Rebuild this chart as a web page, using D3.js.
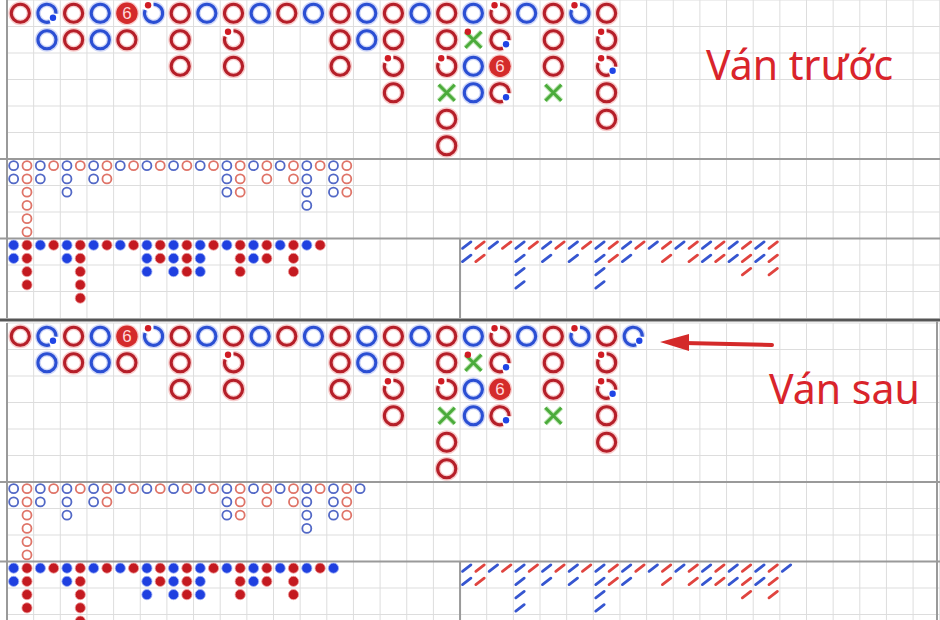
<!DOCTYPE html>
<html>
<head>
<meta charset="utf-8">
<script src="https://cdn.jsdelivr.net/npm/d3@7"></script>
<style>
  body { margin: 0; background: #fff; }
  svg { display: block; }
</style>
</head>
<body>
<svg id="chart"></svg>
<script>

// big road, one string per column, top cell first
// R banker, B player, X tie, 6 banker win on six; b = banker pair dot, p = player pair dot
const bigRoad = ["R", "Bp B", "R R", "B B", "6 R", "Bb", "R R R", "B", "R Rb R", "B", "R", "B",
	"R R R", "B B", "R R Rb R", "B", "R R Rb X R R", "B Xb B B", "Rb Rp 6 Rp", "B", "R R R X", "Bb",
	"R Rb Rbp R R"]
const bigRoadAdded = ["Bp"]

// derived roads, one string per column
const bigEyeRoad = ["BB", "RRRRRR", "BB", "R", "BBB", "R", "BB", "RR", "B", "R", "B", "R", "B", "R",
	"B", "R", "BBB", "RRR", "B", "RR", "B", "RR", "BBBB", "R", "BBB", "RRR"]
const bigEyeAdded = ["B"]

const smallRoad = ["BB", "RRRR", "B", "R", "BB", "RRRRR", "B", "R", "B", "R", "BBB", "RR", "BBB",
	"RRR", "BBB", "R", "B", "RRR", "BB", "RR", "B", "RRR", "B", "R"]
const smallAdded = ["B"]

const cockroachRoad = ["BB", "RR", "B", "R", "BBBB", "R", "BB", "R", "BB", "R", "BBBB", "RR", "BB",
	"R", "B", "RR", "B", "RR", "BB", "RR", "BB", "RRR", "BB", "RRR"]
const cockroachAdded = ["B"]

const labels = ["Ván trước", "Ván sau"]

const width = 940, height = 620
const cell = 26.65, left = 7

const svg = d3.select("#chart")
	.attr("width", width)
	.attr("height", height)
	.style("font-family", "'Noto Sans', 'Open Sans', sans-serif")

svg.append("rect").attr("width", width).attr("height", height).attr("fill", "#fff")

const colors = { R: "#b51f29", B: "#2b4fd3", X: "#4bab3b" }
const halo = { R: "#f3a2a2", B: "#a9b6f0", X: "#bfe6b5" }
const softColors = { R: "#df7468", B: "#5268c6" }
const dotColors = { R: "#c41a20", B: "#1f40e0" }
const slashColors = { R: "#e0443f", B: "#3656d0" }

// grid background for one panel, lines every big cell
function grid(g, x0, x1, y0, y1) {
	const xs = d3.range(Math.ceil((x0 - left) / cell), Math.floor((x1 - left) / cell) + 1).map(k => left + k * cell)
	const ys = d3.range(y0, y1, 26.5)
	g.append("g").selectAll("line.v").data(xs).join("line")
		.attr("x1", d => d).attr("x2", d => d).attr("y1", y0).attr("y2", y1)
		.attr("stroke", "#dddddd").attr("stroke-width", 1)
	g.append("g").selectAll("line.h").data(ys).join("line")
		.attr("x1", x0).attr("x2", x1).attr("y1", d => d).attr("y2", d => d)
		.attr("stroke", "#dddddd").attr("stroke-width", 1)
}

function cells(cols, sep) {
	const out = []
	cols.forEach((col, c) => {
		const parts = sep ? col.split(sep) : col.split("")
		parts.forEach((code, r) => out.push({
			c, r,
			type: code[0],
			bp: code.includes("b"),
			pp: code.includes("p")
		}))
	})
	return out
}

const ring = d3.arc().innerRadius(7.5).outerRadius(10.6)
const ringHalo = d3.arc().innerRadius(6.2).outerRadius(12)
const redDotAt = [-5.5, -8], blueDotAt = [6, 4.5]
const gapHalf = 0.6

function ringPieces(d) {
	const gaps = []
	if (d.bp) gaps.push(Math.atan2(redDotAt[0], -redDotAt[1]))
	if (d.pp) gaps.push(Math.atan2(blueDotAt[0], -blueDotAt[1]))
	if (!gaps.length) return [{ startAngle: 0, endAngle: 2 * Math.PI }]
	gaps.sort((a, b) => a - b)
	return gaps.map((g, i) => {
		const next = i + 1 < gaps.length ? gaps[i + 1] : gaps[0] + 2 * Math.PI
		return { startAngle: g + gapHalf, endAngle: next - gapHalf }
	})
}

function drawBigRoad(g, cols, top) {
	const x = d3.scaleLinear().domain([0, 35]).range([left, left + 35 * cell])
	const y = d3.scaleLinear().domain([0, 6]).range([top, top + 159])

	const items = g.append("g").selectAll("g").data(cells(cols, " ")).join("g")
		.attr("transform", d => `translate(${x(d.c + 0.5)},${y(d.r + 0.5)})`)

	items.filter(d => d.type === "R" || d.type === "B").each(function (d) {
		const sel = d3.select(this)
		ringPieces(d).forEach(p => {
			sel.append("path").attr("d", ringHalo(p)).attr("fill", halo[d.type]).attr("opacity", 0.55)
		})
		ringPieces(d).forEach(p => {
			sel.append("path").attr("d", ring(p)).attr("fill", colors[d.type])
		})
	})

	const six = items.filter(d => d.type === "6")
	six.append("circle").attr("r", 12).attr("fill", halo.R).attr("opacity", 0.55)
	six.append("circle").attr("r", 10.7).attr("fill", "#d42b2b")
	six.append("text").text("6")
		.attr("text-anchor", "middle").attr("dy", "0.36em")
		.attr("font-size", 17).attr("fill", "#ffd8d8")
		.style("font-family", "'Liberation Sans', sans-serif")

	const tie = items.filter(d => d.type === "X")
	tie.append("path").attr("d", "M-8,-8L8,8M-8,8L8,-8")
		.attr("stroke", halo.X).attr("stroke-width", 5).attr("fill", "none")
	tie.append("path").attr("d", "M-8,-8L8,8M-8,8L8,-8")
		.attr("stroke", colors.X).attr("stroke-width", 3).attr("fill", "none")

	items.filter(d => d.bp).append("circle")
		.attr("cx", redDotAt[0]).attr("cy", redDotAt[1]).attr("r", 3.2).attr("fill", "#d01c24")
	items.filter(d => d.pp).append("circle")
		.attr("cx", blueDotAt[0]).attr("cy", blueDotAt[1]).attr("r", 3.2).attr("fill", "#1f45e6")
}

function smallScales(x0, top) {
	return {
		x: d3.scaleLinear().domain([0, 70]).range([x0, x0 + 35 * cell]),
		y: d3.scaleLinear().domain([0, 6]).range([top, top + 79.5])
	}
}

function drawBigEye(g, cols, top) {
	const { x, y } = smallScales(left, top)
	g.append("g").selectAll("circle").data(cells(cols)).join("circle")
		.attr("cx", d => x(d.c + 0.5)).attr("cy", d => y(d.r + 0.5))
		.attr("r", 4.5)
		.attr("fill", "none")
		.attr("stroke", d => softColors[d.type])
		.attr("stroke-width", 1.8)
}

function drawSmallRoad(g, cols, top) {
	const { x, y } = smallScales(left, top)
	g.append("g").selectAll("circle").data(cells(cols)).join("circle")
		.attr("cx", d => x(d.c + 0.5)).attr("cy", d => y(d.r + 0.5))
		.attr("r", 5.1)
		.attr("fill", d => dotColors[d.type])
		.attr("stroke", d => d.type === "R" ? "#f0a0a0" : "#9fb0f5")
		.attr("stroke-width", 0.8)
}

function drawCockroach(g, cols, top) {
	const { x, y } = smallScales(left + 17 * cell, top)
	g.append("g").selectAll("line").data(cells(cols)).join("line")
		.attr("x1", d => x(d.c + 0.5) - 4.2).attr("y1", d => y(d.r + 0.5) + 3.2)
		.attr("x2", d => x(d.c + 0.5) + 4.2).attr("y2", d => y(d.r + 0.5) - 3.2)
		.attr("stroke", d => slashColors[d.type])
		.attr("stroke-width", 2.8)
		.attr("stroke-linecap", "round")
}

// one full scoreboard (big road, big eye, small road, cockroach)
function board(top, extra, bottom) {
	const g = svg.append("g")
	const mid = top + 159, low = top + 238.5
	const split = left + 17 * cell

	grid(g, left, width, top, mid)
	grid(g, left, width, mid, low)
	grid(g, left, width, low, Math.min(bottom, top + 318))

	// panel borders
	const border = [[left, top, left, bottom], [0, mid, width, mid], [0, low, width, low], [split, low, split, bottom]]
	g.append("g").selectAll("line").data(border).join("line")
		.attr("x1", d => d[0]).attr("y1", d => d[1]).attr("x2", d => d[2]).attr("y2", d => d[3])
		.attr("stroke", "#9a9a9a").attr("stroke-width", 2)

	drawBigRoad(g, bigRoad.concat(extra ? bigRoadAdded : []), top)
	drawBigEye(g, bigEyeRoad.concat(extra ? bigEyeAdded : []), mid)
	drawSmallRoad(g, smallRoad.concat(extra ? smallAdded : []), low)
	drawCockroach(g, cockroachRoad.concat(extra ? cockroachAdded : []), low)
	return g
}

board(0, false, 318)
board(323, true, 620)

// separator between the two boards
svg.append("line")
	.attr("x1", 0).attr("x2", width).attr("y1", 320).attr("y2", 320)
	.attr("stroke", "#555").attr("stroke-width", 3)
svg.append("line")
	.attr("x1", 937).attr("x2", 937).attr("y1", 321).attr("y2", 620)
	.attr("stroke", "#9a9a9a").attr("stroke-width", 2)

// labels
svg.append("text").text(labels[0])
	.attr("x", 706).attr("y", 80)
	.attr("font-size", 41).attr("fill", "#d9242b")
svg.append("text").text(labels[1])
	.attr("x", 769).attr("y", 404)
	.attr("font-size", 41).attr("fill", "#d9242b")

// arrow pointing at the new column
svg.append("line")
	.attr("x1", 772).attr("y1", 345).attr("x2", 684).attr("y2", 343)
	.attr("stroke", "#d42a2a").attr("stroke-width", 4).attr("stroke-linecap", "round")
svg.append("path")
	.attr("d", "M660,342L689,334L689,351Z")
	.attr("fill", "#d42a2a")

</script>
</body>
</html>
